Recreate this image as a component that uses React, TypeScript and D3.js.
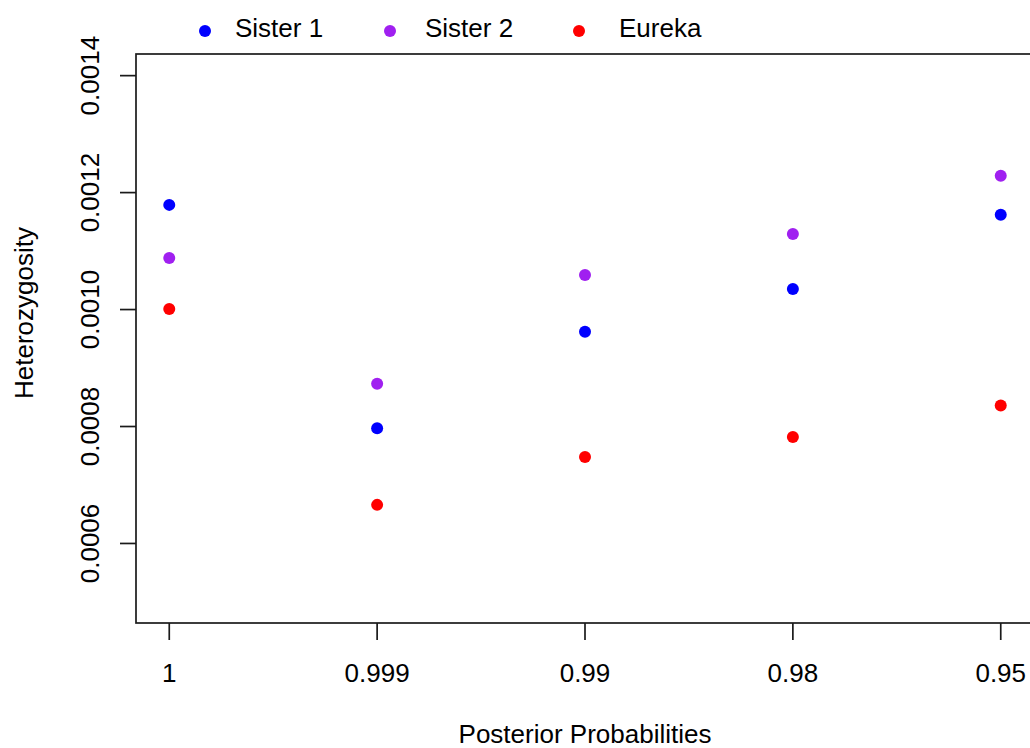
import React from "react";
import * as d3 from "d3";

const categories: string[] = ["1", "0.999", "0.99", "0.98", "0.95"];
const sister1: number[] = [0.001179, 0.000797, 0.000962, 0.001035, 0.001162];
const sister2: number[] = [0.001088, 0.000873, 0.001059, 0.001129, 0.001229];
const eureka: number[] = [0.001001, 0.000666, 0.000748, 0.000782, 0.000836];
const yTicks: number[] = [0.0006, 0.0008, 0.001, 0.0012, 0.0014];
const yTickLabels: string[] = ["0.0006", "0.0008", "0.0010", "0.0012", "0.0014"];
const seriesNames: string[] = ["Sister 1", "Sister 2", "Eureka"];
const seriesColors: string[] = ["#0000FF", "#A020F0", "#FF0000"];

const W = 1030;
const H = 748;
const FONT = "'Liberation Sans', Arial, Helvetica, sans-serif";

export default function App() {
  const left = 136, right = 1034, top = 54, bottom = 623;
  const x = d3.scaleLinear().domain([-0.16, categories.length - 1 + 0.16]).range([left, right]);
  const y = d3.scaleLinear().domain([0.000464, 0.001437]).range([bottom, top]);
  const series = [sister1, sister2, eureka];
  const legendDots = [205, 390, 579];
  const legendText = [235, 425, 619];

  return (
    <svg width={W} height={H} style={{ position: "absolute", left: 0, top: 0, background: "#fff" }}
      fontFamily={FONT}>
      <rect x={0} y={0} width={W} height={H} fill="#fff" />
      {/* box */}
      <rect x={left} y={top} width={right - left} height={bottom - top} fill="none" stroke="#1a1a1a" strokeWidth={1.7} />
      {/* y axis ticks */}
      {yTicks.map((t, i) => (
        <g key={"y" + i}>
          <line x1={left - 16} x2={left} y1={y(t)} y2={y(t)} stroke="#1a1a1a" strokeWidth={1.7} />
          <text transform={`translate(99,${y(t)}) rotate(-90)`} textAnchor="middle" fontSize={26} fill="#000">
            {yTickLabels[i]}
          </text>
        </g>
      ))}
      {/* x axis ticks */}
      {categories.map((c, i) => (
        <g key={"x" + i}>
          <line x1={x(i)} x2={x(i)} y1={bottom} y2={bottom + 17} stroke="#1a1a1a" strokeWidth={1.7} />
          <text x={x(i)} y={682} textAnchor="middle" fontSize={26} fill="#000">{c}</text>
        </g>
      ))}
      {/* axis titles */}
      <text x={585} y={743} textAnchor="middle" fontSize={26} fill="#000">Posterior Probabilities</text>
      <text transform={`translate(33,313) rotate(-90)`} textAnchor="middle" fontSize={26} fill="#000">Heterozygosity</text>
      {/* points */}
      {series.map((s, si) =>
        s.map((v, i) => (
          <circle key={`p${si}-${i}`} cx={x(i)} cy={y(v)} r={6} fill={seriesColors[si]} />
        ))
      )}
      {/* legend */}
      {seriesNames.map((n, i) => (
        <g key={"l" + i}>
          <circle cx={legendDots[i]} cy={31} r={6} fill={seriesColors[i]} />
          <text x={legendText[i]} y={37} fontSize={26} fill="#000">{n}</text>
        </g>
      ))}
    </svg>
  );
}
